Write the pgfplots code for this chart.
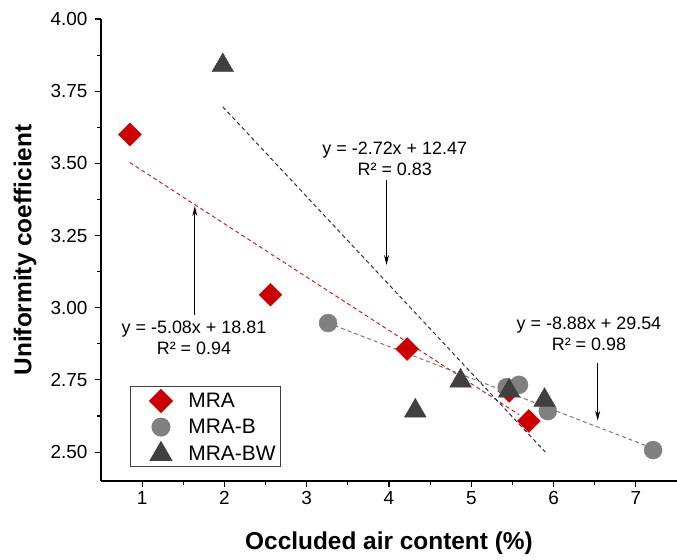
\documentclass[border=0pt]{standalone}
\usepackage{fontspec}
\setmainfont{Liberation Sans}
\usepackage{pgfplots}
\pgfplotsset{compat=1.18}
\usetikzlibrary{arrows.meta}
\definecolor{mred}{RGB}{204,0,0}
\definecolor{mgray}{RGB}{128,128,128}
\definecolor{mdark}{RGB}{64,64,64}
\definecolor{lred}{RGB}{220,30,30}
\definecolor{ldark}{RGB}{50,50,50}
\definecolor{lgray}{RGB}{120,120,120}
\begin{document}
\begin{tikzpicture}
\useasboundingbox (-101bp,-79bp) rectangle (576bp,481bp);
\begin{axis}[
  scale only axis, width=576bp, height=462bp,
  xmin=0.5, xmax=7.5, ymin=2.4, ymax=4.0,
  axis x line*=bottom, axis y line*=left,
  axis line style={line width=1.2bp, black},
  xtick={1,2,3,4,5,6,7},
  ytick={2.5,2.75,3,3.25,3.5,3.75,4},
  minor xtick={1.5,2.5,3.5,4.5,5.5,6.5},
  minor ytick={2.625,2.875,3.125,3.375,3.625,3.875},
  tick align=outside,
  major tick length=6bp, minor tick length=3.5bp,
  every tick/.style={black, line width=1.1bp},
  /pgf/number format/assume math mode=true,
  ticklabel style={font=\fontsize{19}{21}\selectfont},
  yticklabel style={/pgf/number format/fixed, /pgf/number format/fixed zerofill, /pgf/number format/precision=2, xshift=-4bp},
  xticklabel style={/pgf/number format/fixed, yshift=-1bp},
  xlabel={Occluded air content (\%)},
  ylabel={Uniformity coefficient},
  xlabel style={font=\fontsize{24.5}{27}\bfseries, at={(rel axis cs:0.5,0)}, anchor=center, yshift=-61.7bp},
  ylabel style={font=\fontsize{24.5}{27}\bfseries, at={(rel axis cs:0,0.5)}, anchor=center, yshift=76bp},
  legend style={at={(rel axis cs:0.0503,0.2056)}, anchor=north west, draw=black!75, line width=1bp,
    font=\fontsize{21}{23}\selectfont, inner xsep=3bp, inner ysep=3bp, row sep=5.5bp,
    nodes={inner ysep=1.2bp, inner xsep=2bp}},
  legend cell align=left,
  legend image code/.code={\draw[opacity=0] (0bp,0bp) -- (52bp,0bp); \draw plot coordinates {(27bp,0bp)};},
  clip=false,
]
% trend lines
\addplot[lred, dash pattern=on 4bp off 3bp, line width=1bp, forget plot] coordinates {(0.85,3.503) (5.58,2.630)};
\addplot[ldark, dash pattern=on 4bp off 3bp, line width=1bp, forget plot] coordinates {(1.98,3.696) (5.90,2.500)};
\addplot[lgray, dash pattern=on 4bp off 3bp, line width=1bp, forget plot] coordinates {(3.26,2.947) (7.21,2.513)};
% data
\addplot[only marks, mark=square*, mark size=8.1bp, mark options={rotate=45, fill=mred, draw=mred}] coordinates {
 (0.85,3.60) (2.56,3.045) (4.22,2.857) (5.46,2.712) (5.70,2.608)};
\addlegendentry{MRA}
\addplot[only marks, mark=*, mark size=9bp, mark options={fill=mgray, draw=mgray}] coordinates {
 (3.26,2.947) (5.43,2.725) (5.58,2.733) (5.93,2.642) (7.21,2.507)};
\addlegendentry{MRA-B}
\addplot[only marks, mark=triangle*, mark size=12.5bp, mark options={fill=mdark, draw=mdark}] coordinates {
 (1.98,3.839) (4.32,2.643) (4.87,2.747) (5.46,2.712) (5.89,2.68)};
\addlegendentry{MRA-BW}
% annotations
\draw[-{Stealth[length=10bp,width=5bp]}, line width=0.9bp] (axis cs:3.97,3.442) -- (axis cs:3.97,3.148);
\draw[-{Stealth[length=10bp,width=5bp]}, line width=0.9bp] (axis cs:1.64,2.975) -- (axis cs:1.64,3.352);
\draw[-{Stealth[length=10bp,width=5bp]}, line width=0.9bp] (axis cs:6.536,2.808) -- (axis cs:6.536,2.609);
\node[align=center, font=\fontsize{18}{21.5}\selectfont] at (axis cs:4.07,3.516) {y = -2.72x + 12.47\\R² = 0.83};
\node[align=center, font=\fontsize{18}{21.5}\selectfont] at (axis cs:1.63,2.895) {y = -5.08x + 18.81\\R² = 0.94};
\node[align=center, font=\fontsize{18}{21.5}\selectfont] at (axis cs:6.43,2.91) {y = -8.88x + 29.54\\R² = 0.98};
\end{axis}
\end{tikzpicture}
\end{document}
